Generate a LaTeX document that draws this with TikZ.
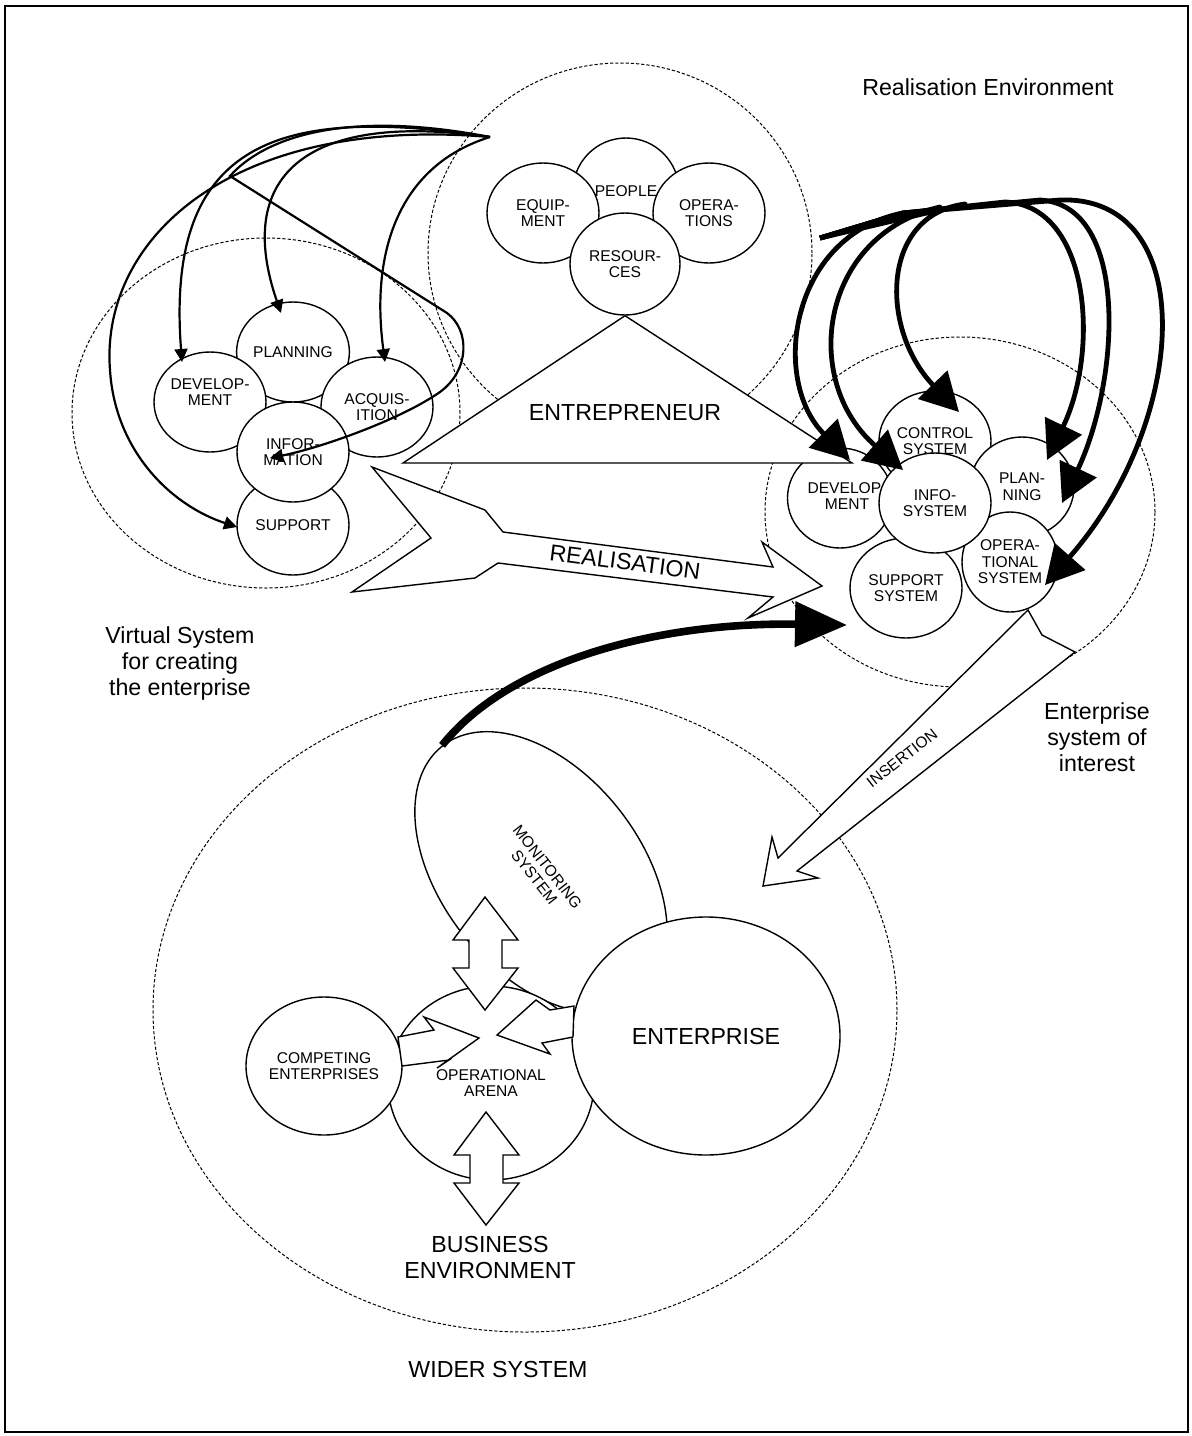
\documentclass[tikz,border=0pt]{standalone}
\usepackage{fontspec}
\setmainfont{Liberation Sans}
\usetikzlibrary{arrows.meta, shapes.geometric, calc}
\newcommand\bubfont{\fontsize{7.8}{8.3}\selectfont}
\newcommand\lblfont{\fontsize{11.6}{13}\selectfont}
\tikzset{
  bub/.style={ellipse, draw=black, fill=white, line width=0.7pt,
              minimum width=56pt, minimum height=50pt, inner sep=0pt,
              font=\bubfont, align=center},
  bubtxt/.style={font=\bubfont, align=center, inner sep=0pt},
  zone/.style={ellipse, draw=black, line width=0.5pt,
               dash pattern=on 1.6pt off 1pt, inner sep=0pt},
  blockarr/.style={draw=black, fill=white, line width=0.7pt, line join=miter},
  thinarr/.style={-{Triangle[length=6.5pt,width=6.5pt]}, line width=1.1pt},
  fatarr/.style={-{Triangle[length=19pt,width=20pt]}, line width=2.4pt,
                 line join=round},
  lbl/.style={font=\lblfont, align=center},
}
\begin{document}
\begin{tikzpicture}[x=0.5pt, y=0.5pt]
  \useasboundingbox (0,0) rectangle (1192,-1436);
  \draw[line width=0.8pt] (5,-6) rectangle (1188,-1432);
  %% dashed system boundaries
  \node[zone, minimum width=192pt, minimum height=190pt] (realenv) at (620,-253) {};
  \node[zone, minimum width=194pt, minimum height=175pt] (virtsys) at (266,-413) {};
  \node[zone, minimum width=195pt, minimum height=175pt] (entsys)  at (960,-512) {};
  \node[zone, minimum width=372pt, minimum height=322pt] (wider)   at (525,-1010) {};
  %% realisation environment
  \node[bub, minimum width=53pt, minimum height=53pt] (people) at (626,-191) {PEOPLE};
  \node[bub] (equip) at (543,-213) {EQUIP-\\MENT};
  \node[bub] (oper)  at (709,-213) {OPERA-\\TIONS};
  \node[bub, minimum width=55pt, minimum height=51pt] (res) at (625,-264) {RESOUR-\\CES};
  %% virtual system
  \node[bub] (vplan) at (293,-352) {PLANNING};
  \node[bub] (vdev)  at (210,-402) {};
  \node[bubtxt] (vdevtxt) at ($(vdev)+(0,10)$) {DEVELOP-\\MENT};
  \node[bub] (vacq)  at (377,-407) {ACQUIS-\\ITION};
  \node[bub] (vsup)  at (293,-525) {SUPPORT};
  \node[bub] (vinfo) at (293,-452) {INFOR-\\MATION};
  %% enterprise system of interest
  \node[bub] (rctl) at (935,-441) {CONTROL\\SYSTEM};
  \node[bub, minimum width=52pt]   (rplan) at (1022,-487) {PLAN-\\NING};
  \node[bub, minimum width=52.5pt] (rdev)  at (840,-498)  {};
  \node[bubtxt] (rdevtxt) at ($(rdev)+(7,2)$) {DEVELOP-\\MENT};
  \node[bub, minimum width=48pt]   (rops)  at (1010,-562) {OPERA-\\TIONAL\\SYSTEM};
  \node[bub] (rsup)  at (906,-588) {SUPPORT\\SYSTEM};
  \node[bub] (rinfo) at (935,-503) {INFO-\\SYSTEM};
  %% entrepreneur
  \draw[fill=white, line width=0.7pt] (res.south) -- (403,-463) -- (852,-463) -- cycle;
  \node[lbl] (entre) at (625,-413) {ENTREPRENEUR};
  %% realisation and insertion arrows
  \draw[blockarr] (372,-467) -- (485,-510) -- (503,-532) -- (773,-567) -- (762,-542)
    -- (822,-586) -- (748,-618) -- (773,-597) -- (498,-563) -- (475,-578)
    -- (352,-592) -- (431,-538) -- cycle;
  \node[lbl, rotate=-7.4] (real) at (625,-562) {REALISATION};
  \draw[blockarr] (1028,-610) -- (1042,-635) -- (1075,-652) -- (797,-871) -- (818,-878)
    -- (763,-886) -- (772,-837) -- (778,-858) -- cycle;
  \node[font=\bubfont, rotate=38] (ins) at (902,-758) {INSERTION};
  %% wider system
  \node[bub, minimum width=160pt, minimum height=100pt, rotate=-52] (mon) at (541,-872) {MONITORING\\SYSTEM};
  \node[bub, minimum width=103pt, minimum height=97pt] (arena) at (491,-1083) {OPERATIONAL\\ARENA};
  \node[bub, minimum width=78pt, minimum height=69pt] (comp) at (324,-1066) {COMPETING\\ENTERPRISES};
  \node[bub, minimum width=134pt, minimum height=119pt, font=\lblfont] (ent) at (706,-1036) {ENTERPRISE};
  \foreach \px/\py in {485/897, 486/1112}
    \draw[blockarr, shift={(\px,-\py)}] (0,0) -- (33,-43) -- (17,-43) -- (17,-71) -- (33,-71)
      -- (0,-113) -- (-32,-71) -- (-16,-71) -- (-16,-43) -- (-32,-43) -- cycle;
  \draw[blockarr] (398,-1037) -- (434,-1030) -- (424,-1017) -- (479,-1038) -- (437,-1068)
    -- (449,-1060) -- (402,-1066) -- cycle;
  \draw[blockarr] (574,-1006) -- (550,-1010) -- (536,-1000) -- (497,-1035) -- (550,-1054)
    -- (542,-1043) -- (573,-1037) -- cycle;
  %% labels
  \node[lbl] (realenvlbl) at (988,-87)  {Realisation Environment};
  \node[lbl] (virtlbl)    at (180,-663) {Virtual System\\for creating\\the enterprise};
  \node[lbl] (esoilbl)    at (1097,-737) {Enterprise\\system of\\interest};
  \node[lbl] (buslbl)     at (490,-1257) {BUSINESS\\ENVIRONMENT};
  \node[lbl] (widerlbl)   at (498,-1369) {WIDER SYSTEM};
  %% control links of the virtual system
  \coordinate (vsrc) at (490,-137);
  \draw[thinarr] (vsrc) .. controls (280,-105) and (165,-140) .. ($(vdev)+(-28,40)$);
  \draw[thinarr] (vsrc) .. controls (300,-110) and (235,-180) .. ($(vplan)+(-12,39)$);
  \draw[thinarr] (vsrc) .. controls (400,-165) and (370,-250) .. ($(vacq)+(8,45)$);
  \draw[thinarr] (vsrc) .. controls (340,-108) and (262,-140) .. (230,-176) -- (447,-313)
    .. controls (470,-330) and (470,-370) .. (440,-392)
    .. controls (400,-420) and (320,-448) .. ($(vinfo)+(-23,-6)$);
  \draw[thinarr] (vsrc) .. controls (230,-115) and (100,-240) .. (110,-370)
    .. controls (115,-450) and (170,-505) .. ($(vsup)+(-56,-2)$);
  %% control links of the enterprise
  \coordinate (rsrc) at (820,-238);
  \draw[fatarr] (rsrc) -- (903,-213) .. controls (790,-235) and (770,-380) .. ($(rdev)+(10,38)$);
  \draw[fatarr] (rsrc) -- (940,-207) .. controls (820,-235) and (800,-380) .. ($(rinfo)+(-32,33)$);
  \draw[fatarr] (rsrc) -- (965,-204) .. controls (880,-215) and (880,-330) .. ($(rctl)+(24,29)$);
  \draw[fatarr] (rsrc) -- (903,-213) -- (1005,-202) .. controls (1090,-205) and (1100,-350) .. ($(rplan)+(25,27)$);
  \draw[fatarr] (rsrc) -- (903,-213) -- (1040,-200) .. controls (1130,-205) and (1120,-380) .. ($(rplan)+(40,-16)$);
  \draw[fatarr] (rsrc) -- (903,-213) -- (1060,-200) .. controls (1200,-195) and (1190,-420) .. ($(rops)+(35,-23)$);
  %% monitoring feedback
  \draw[-{Triangle[length=26pt,width=22pt]}, line width=3.8pt]
    (mon.west) .. controls (510,-660) and (660,-622) .. ($(entsys)+(-113,-113)$);
\end{tikzpicture}
\end{document}
